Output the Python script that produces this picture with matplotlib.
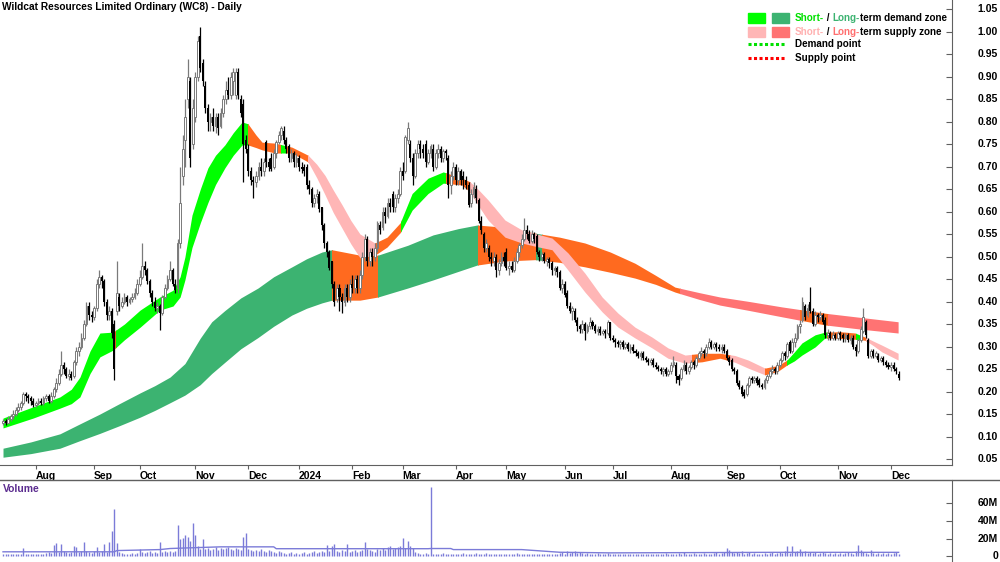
import numpy as np
import matplotlib
matplotlib.use('Agg')
import matplotlib.pyplot as plt
from matplotlib.patches import Rectangle
from matplotlib.lines import Line2D
import matplotlib.transforms as mtrans

plt.rcParams['font.family'] = ['Liberation Sans', 'DejaVu Sans']
plt.rcParams['font.weight'] = 'bold'

title = 'Wildcat Resources Limited Ordinary (WC8) - Daily'

# daily bars, one per trading day (Jul 2023 - Dec 2024)
opens = [
    .13, .135, .13, .14, .145, .15, .16, .165, .175, .195,
    .19, .185, .18, .17, .175, .18, .175, .185, .19, .18,
    .19, .205, .22, .24, .26, .25, .235, .24, .235, .265,
    .29, .30, .32, .35, .39, .37, .365, .385, .44, .455,
    .445, .40, .37, .38, .35, .38, .41, .39, .40, .41,
    .40, .405, .41, .42, .44, .455, .48, .47, .445, .42,
    .40, .385, .39, .375, .41, .43, .45, .47, .44, .43,
    .53, .68, .76, .85, .89, .75, .81, .90, .99, .93,
    .88, .83, .80, .81, .79, .81, .79, .82, .85, .87,
    .86, .89, .86, .91, .85, .84, .76, .74, .69, .67,
    .665, .68, .70, .69, .755, .71, .72, .70, .73, .755,
    .77, .78, .76, .745, .72, .73, .71, .72, .70, .70,
    .70, .66, .65, .62, .635, .64, .61, .57, .53, .51,
    .49, .44, .405, .43, .41, .40, .43, .41, .44, .43,
    .45, .43, .46, .50, .54, .49, .51, .50, .52, .57,
    .565, .60, .59, .62, .64, .61, .63, .64, .69, .69,
    .76, .75, .72, .68, .73, .75, .74, .75, .71, .73,
    .74, .70, .73, .74, .72, .735, .72, .66, .68, .70,
    .67, .69, .68, .67, .66, .62, .64, .65, .625, .58,
    .55, .52, .52, .50, .49, .50, .47, .485, .50, .51,
    .475, .48, .47, .49, .51, .525, .54, .56, .55, .535,
    .55, .545, .51, .50, .505, .49, .495, .485, .47, .475,
    .465, .43, .44, .42, .39, .38, .38, .36, .345, .34,
    .35, .335, .345, .355, .345, .335, .34, .33, .335, .33,
    .355, .32, .315, .31, .305, .31, .30, .305, .295, .30,
    .29, .285, .28, .285, .275, .27, .265, .27, .26, .255,
    .25, .245, .25, .24, .245, .26, .26, .235, .23, .25,
    .26, .245, .255, .265, .26, .275, .285, .29, .285, .30,
    .31, .30, .305, .30, .295, .30, .29, .275, .27, .25,
    .245, .22, .21, .20, .195, .215, .23, .225, .23, .225,
    .215, .21, .225, .235, .245, .25, .245, .26, .27, .285,
    .28, .31, .29, .31, .32, .345, .36, .39, .37, .40,
    .38, .35, .37, .365, .37, .36, .325, .33, .32, .325,
    .32, .33, .325, .32, .325, .315, .32, .30, .29, .315,
    .335, .355, .315, .28, .29, .28, .28, .27, .275, .265,
    .26, .255, .26, .25, .24]
closes = [
    .135, .13, .14, .145, .15, .16, .165, .175, .195, .19,
    .185, .18, .17, .175, .18, .175, .185, .19, .18, .19,
    .205, .22, .24, .26, .25, .235, .24, .23, .265, .29,
    .30, .32, .35, .39, .37, .365, .385, .44, .455, .445,
    .40, .37, .38, .33, .25, .42, .39, .40, .41, .40,
    .405, .41, .42, .44, .455, .48, .47, .445, .42, .40,
    .385, .39, .375, .41, .43, .45, .47, .44, .425, .53,
    .62, .74, .81, .90, .72, .83, .90, .98, .92, .89,
    .83, .80, .81, .79, .81, .785, .82, .85, .87, .86,
    .90, .91, .91, .86, .82, .75, .74, .69, .67, .665,
    .68, .70, .69, .71, .71, .70, .695, .73, .755, .77,
    .785, .76, .74, .72, .73, .71, .72, .70, .695, .69,
    .66, .65, .62, .63, .64, .605, .57, .53, .51, .475,
    .44, .40, .43, .41, .40, .43, .41, .44, .43, .45,
    .43, .46, .50, .54, .49, .51, .50, .52, .575, .56,
    .60, .59, .62, .61, .61, .63, .64, .69, .68, .765,
    .785, .72, .68, .73, .75, .74, .73, .71, .73, .745,
    .70, .73, .74, .72, .735, .73, .66, .68, .70, .67,
    .69, .67, .67, .66, .615, .64, .655, .63, .58, .56,
    .52, .53, .50, .495, .50, .47, .485, .50, .49, .475,
    .48, .47, .49, .51, .525, .54, .56, .55, .535, .55,
    .54, .51, .50, .505, .49, .495, .485, .47, .475, .465,
    .43, .44, .415, .39, .38, .385, .36, .345, .34, .35,
    .335, .345, .355, .345, .335, .34, .33, .335, .33, .355,
    .32, .315, .31, .305, .31, .30, .305, .295, .30, .29,
    .285, .28, .285, .275, .27, .265, .27, .26, .255, .25,
    .245, .25, .24, .245, .26, .265, .235, .225, .25, .26,
    .245, .255, .265, .26, .275, .285, .29, .285, .30, .31,
    .30, .305, .30, .295, .30, .29, .275, .265, .25, .245,
    .22, .21, .195, .19, .215, .23, .225, .23, .22, .215,
    .21, .225, .235, .245, .25, .245, .26, .27, .285, .28,
    .305, .29, .31, .32, .345, .35, .40, .365, .385, .38,
    .35, .37, .365, .37, .355, .325, .33, .32, .325, .32,
    .33, .325, .32, .325, .315, .32, .30, .29, .315, .34,
    .365, .325, .28, .29, .28, .285, .27, .275, .265, .26,
    .255, .26, .25, .245, .23]
highs = [
    .14, .14, .145, .15, .16, .165, .175, .18, .20, .20,
    .195, .19, .185, .18, .185, .185, .19, .195, .195, .20,
    .21, .23, .25, .29, .265, .255, .25, .245, .27, .30,
    .31, .33, .36, .40, .40, .38, .39, .45, .47, .46,
    .45, .405, .39, .385, .36, .49, .42, .41, .42, .415,
    .41, .42, .43, .45, .47, .53, .49, .475, .45, .425,
    .41, .40, .395, .415, .44, .46, .49, .475, .45, .54,
    .70, .77, .85, .94, .90, .85, .91, .99, 1.01, .94,
    .89, .84, .82, .83, .82, .82, .83, .86, .89, .90,
    .91, .92, .92, .92, .86, .85, .77, .75, .70, .68,
    .69, .71, .72, .72, .76, .72, .73, .74, .76, .78,
    .79, .79, .765, .75, .74, .735, .73, .725, .71, .705,
    .705, .67, .655, .64, .65, .645, .61, .575, .535, .515,
    .49, .445, .44, .44, .42, .44, .44, .45, .46, .46,
    .46, .47, .51, .55, .545, .52, .52, .53, .58, .58,
    .61, .61, .63, .63, .645, .64, .65, .70, .71, .77,
    .80, .76, .73, .74, .76, .76, .75, .76, .74, .75,
    .75, .74, .75, .745, .74, .74, .725, .69, .71, .705,
    .70, .695, .69, .68, .665, .65, .665, .66, .63, .59,
    .555, .54, .525, .51, .51, .505, .495, .51, .51, .52,
    .49, .49, .50, .52, .53, .55, .585, .57, .56, .56,
    .555, .55, .515, .51, .51, .50, .50, .49, .48, .48,
    .47, .45, .445, .425, .40, .39, .385, .365, .35, .36,
    .355, .35, .365, .36, .35, .345, .345, .34, .34, .36,
    .355, .325, .32, .315, .315, .315, .31, .31, .305, .305,
    .295, .29, .29, .29, .28, .275, .275, .275, .265, .26,
    .255, .255, .255, .25, .265, .28, .265, .24, .255, .27,
    .265, .26, .27, .27, .28, .29, .30, .295, .305, .32,
    .315, .31, .31, .305, .305, .305, .295, .28, .275, .255,
    .25, .225, .215, .205, .22, .235, .235, .235, .235, .23,
    .22, .23, .24, .25, .26, .255, .265, .275, .29, .29,
    .31, .315, .32, .33, .35, .36, .41, .395, .395, .432,
    .385, .38, .375, .38, .375, .365, .34, .335, .335, .33,
    .335, .335, .33, .33, .33, .325, .325, .305, .32, .345,
    .385, .36, .32, .295, .295, .29, .285, .28, .28, .27,
    .265, .265, .265, .255, .245]
lows = [
    .125, .125, .13, .135, .14, .145, .155, .16, .17, .18,
    .175, .17, .165, .165, .17, .17, .17, .18, .175, .175,
    .185, .20, .215, .235, .24, .23, .225, .225, .23, .26,
    .28, .295, .315, .345, .36, .355, .36, .38, .43, .43,
    .39, .36, .36, .32, .225, .37, .38, .385, .395, .39,
    .395, .40, .405, .415, .435, .45, .46, .44, .41, .39,
    .38, .375, .337, .37, .405, .425, .445, .435, .42, .42,
    .52, .66, .70, .83, .70, .74, .80, .89, .91, .88,
    .82, .78, .78, .78, .775, .77, .785, .81, .84, .85,
    .85, .86, .85, .85, .81, .665, .73, .68, .66, .63,
    .655, .67, .68, .68, .70, .69, .69, .695, .72, .75,
    .76, .75, .73, .71, .71, .70, .70, .69, .685, .68,
    .65, .64, .61, .61, .62, .60, .56, .52, .50, .47,
    .43, .39, .40, .38, .375, .39, .40, .40, .42, .42,
    .42, .42, .45, .49, .48, .48, .48, .49, .51, .55,
    .56, .575, .585, .60, .60, .60, .62, .635, .67, .685,
    .75, .71, .66, .675, .72, .72, .72, .70, .705, .72,
    .69, .695, .72, .71, .71, .715, .63, .64, .67, .66,
    .66, .66, .65, .65, .61, .61, .63, .62, .575, .55,
    .51, .51, .49, .48, .48, .455, .46, .48, .48, .47,
    .46, .465, .465, .485, .50, .52, .535, .54, .53, .53,
    .53, .505, .49, .49, .485, .48, .475, .46, .46, .455,
    .425, .42, .41, .385, .375, .36, .355, .335, .33, .33,
    .315, .33, .34, .34, .33, .325, .325, .325, .32, .325,
    .315, .31, .30, .30, .295, .295, .295, .29, .285, .285,
    .28, .275, .27, .27, .265, .26, .26, .255, .25, .245,
    .24, .235, .235, .235, .24, .255, .22, .215, .225, .245,
    .24, .24, .25, .25, .255, .27, .28, .275, .28, .295,
    .295, .295, .29, .29, .285, .285, .27, .26, .245, .24,
    .215, .205, .19, .185, .19, .21, .22, .22, .215, .21,
    .205, .205, .22, .23, .24, .24, .24, .255, .265, .27,
    .275, .285, .285, .30, .315, .33, .355, .36, .365, .375,
    .345, .345, .355, .36, .35, .32, .315, .315, .315, .315,
    .315, .315, .31, .31, .31, .305, .295, .28, .285, .31,
    .33, .32, .275, .275, .275, .275, .265, .265, .26, .255,
    .25, .245, .245, .24, .225]
# volume in millions
volumes = [
    2, 3, 2, 3, 2, 3, 2, 3, 9, 3,
    2, 3, 2, 2, 3, 2, 3, 4, 5, 4,
    13, 15, 5, 14, 6, 5, 4, 5, 11, 10,
    5, 6, 16, 6, 5, 4, 6, 10, 5, 6,
    14, 5, 16, 29, 53, 15, 5, 4, 3, 3,
    2, 4, 3, 4, 8, 5, 4, 5, 6, 4,
    5, 4, 16, 5, 6, 5, 6, 5, 6, 35,
    20, 21, 24, 22, 17, 37, 24, 12, 8, 19,
    8, 9, 7, 8, 10, 7, 9, 8, 9, 10,
    8, 7, 9, 8, 7, 22, 26, 8, 7, 6,
    7, 6, 8, 6, 5, 7, 6, 5, 4, 6,
    5, 4, 3, 4, 5, 3, 4, 3, 4, 5,
    3, 4, 5, 6, 4, 5, 6, 5, 13, 6,
    12, 14, 6, 5, 7, 6, 14, 5, 6, 7,
    5, 6, 7, 16, 8, 7, 6, 5, 8, 7,
    9, 7, 10, 11, 8, 9, 10, 11, 21, 9,
    17, 12, 9, 5, 4, 3, 3, 4, 3, 78,
    3, 2, 3, 2, 4, 3, 2, 3, 2, 3,
    2, 3, 4, 2, 3, 2, 3, 4, 3, 2,
    3, 4, 3, 2, 3, 2, 3, 2, 3, 2,
    3, 2, 3, 4, 2, 3, 2, 3, 2, 3,
    2, 3, 2, 3, 2, 3, 2, 3, 2, 3,
    4, 5, 3, 6, 4, 5, 6, 4, 5, 4,
    3, 4, 3, 2, 3, 4, 3, 2, 3, 4,
    2, 3, 2, 3, 2, 3, 2, 3, 2, 2,
    3, 2, 3, 2, 3, 2, 3, 2, 3, 2,
    3, 2, 4, 3, 2, 3, 2, 4, 3, 5,
    3, 2, 3, 4, 3, 2, 3, 4, 3, 2,
    3, 4, 5, 3, 4, 5, 9, 7, 5, 4,
    5, 4, 6, 3, 4, 5, 3, 4, 3, 2,
    3, 4, 3, 4, 5, 3, 4, 5, 4, 6,
    12, 4, 11, 5, 6, 8, 5, 6, 4, 5,
    4, 5, 3, 4, 5, 4, 3, 4, 3, 4,
    3, 4, 3, 4, 5, 4, 3, 6, 13, 7,
    5, 4, 3, 7, 4, 3, 4, 3, 4, 3,
    4, 3, 4, 5, 3]
vol_ma_x = [0, 44, 45, 62, 66, 73, 86, 107, 108, 168, 169, 177, 178, 205, 220, 240, 305, 354]
vol_ma = [5, 5, 6.4, 7.5, 8.7, 9.4, 10.6, 10.6, 8.5, 8.5, 8.7, 8.7, 7.5, 7.5, 4.5, 3.8, 4.4, 4.4]

# short-term zone, read at bar positions
short_x = [0, 11.9, 22.5, 27, 30.4, 34.4, 38.3, 43.5, 48, 54.2, 62, 67.2, 70, 71.9, 74.7,
           78, 81, 84, 87.7, 91, 94.5, 96.8, 100, 102.4, 107.5, 114.2, 120.6, 124, 127.3,
           130.5, 134, 137.5, 141.1, 147, 151.8, 157, 161.7, 168, 174, 181.4, 184.6, 188,
           191.7, 198.4, 205.1, 211, 217, 223.3, 230, 236.8, 243.1, 249.8, 256.5, 262.8,
           269.6, 276.3, 283.4, 289.3, 294.5, 301.2, 306.3, 309.9, 312.8, 315.8, 321, 324.9,
           330.8, 336.8, 340.7, 344, 347.4, 353.8]
short_top = [.141, .166, .188, .205, .232, .29, .33, .332, .35, .381, .41, .425, .455, .499, .592,
             .65, .697, .725, .748, .775, .799, .795, .77, .754, .752, .743, .725, .705, .68,
             .648, .615, .58, .55, .53, .543, .575, .64, .674, .688, .674, .666, .648,
             .626, .581, .559, .55, .541, .508, .463, .41, .374, .343, .321, .297,
             .281, .285, .285, .28, .27, .252, .258, .27, .288, .308, .326, .332,
             .333, .33, .321, .312, .303, .285]
short_bot = [.119, .141, .163, .173, .188, .24, .277, .292, .315, .343, .381, .39, .41, .448, .52,
             .575, .62, .66, .697, .725, .748, .748, .742, .737, .73, .73, .71, .675, .637,
             .598, .563, .528, .497, .503, .521, .553, .603, .64, .663, .659, .643, .612,
             .581, .543, .53, .522, .515, .47, .421, .377, .343, .319, .297, .274,
             .263, .266, .274, .265, .252, .237, .245, .259, .268, .281, .299, .319,
             .318, .316, .314, .302, .288, .27]
short_segs = [(0, 43.5, 'sd'), (43.5, 44.5, 'or'), (44.5, 96.8, 'sd'), (96.8, 109.9, 'or'),
              (109.9, 111.9, 'sd'), (111.9, 120.6, 'or'), (120.6, 147, 'ss'), (147, 157.3, 'or'),
              (157.3, 175.1, 'sd'), (175.1, 184.6, 'or'), (184.6, 272.3, 'ss'),
              (272.3, 287.4, 'or'), (287.4, 301.2, 'ss'), (301.2, 309.9, 'or'),
              (309.9, 325.7, 'sd'), (325.7, 337.2, 'or'), (337.2, 338.7, 'sd'),
              (338.7, 341.1, 'or'), (341.1, 354, 'ss')]

# long-term zone
long_x = [0, 11, 22.5, 30, 38.3, 46, 54.2, 60, 66, 71.9, 77.9, 82.5, 87.7, 94, 100.8, 107,
          114.2, 120, 126.1, 130, 141.1, 148.2, 160, 170, 180, 187.4, 198.4, 210.3, 220, 230,
          240, 249.8, 258, 265.6, 275, 283.4, 295, 307.9, 324.9, 340, 353.8]
long_top = [.074, .088, .106, .127, .15, .173, .197, .213, .232, .262, .318, .355, .38, .408,
            .43, .455, .477, .495, .51, .515, .503, .503, .525, .548, .562, .57, .565, .552,
            .543, .53, .51, .485, .458, .432, .42, .41, .40, .388, .374, .364, .355]
long_bot = [.054, .062, .074, .09, .107, .124, .143, .158, .175, .192, .215, .24, .265, .295,
            .32, .345, .37, .385, .397, .403, .403, .41, .43, .448, .467, .481, .49, .493,
            .487, .477, .465, .452, .438, .421, .405, .392, .38, .366, .348, .338, .33]
long_segs = [(0, 130, 'ld'), (130, 148.2, 'or'), (148.2, 187.7, 'ld'), (187.7, 210.7, 'or'),
             (210.7, 213, 'ld'), (213, 267.6, 'or'), (267.6, 315, 'ls'), (315, 326, 'or'),
             (326, 354, 'ls')]

month_pos = [13, 36, 54, 76, 97, 117, 138, 158, 179, 199, 222, 241, 264, 286, 307, 330, 351]
month_lab = ['Aug', 'Sep', 'Oct', 'Nov', 'Dec', '2024', 'Feb', 'Mar', 'Apr', 'May', 'Jun',
             'Jul', 'Aug', 'Sep', 'Oct', 'Nov', 'Dec']
price_ticks = [0.05, 0.10, 0.15, 0.20, 0.25, 0.30, 0.35, 0.40, 0.45, 0.50,
               0.55, 0.60, 0.65, 0.70, 0.75, 0.80, 0.85, 0.90, 0.95, 1.00, 1.05]
vol_ticks = [0, 20, 40, 60]
vol_tick_lab = ['0', '20M', '40M', '60M']

colors = {'sd': '#00FF00', 'ld': '#3CB371', 'ss': '#FFB6B6', 'ls': '#FF7373', 'or': '#FF6A1F'}
axis_col = '#606060'
vol_col = '#7B7BD8'
FS = 7.5

W, H = 1000, 562
fig = plt.figure(figsize=(W / 100, H / 100), dpi=100)


def fx(px):
    return px / W


def fy(py):
    return 1 - py / H


ax = fig.add_axes([0, fy(465), fx(952), 465 / H])
axv = fig.add_axes([0, 0, fx(952), 82 / H])

x = np.arange(len(closes))
o = np.array(opens)
c = np.array(closes)
hi = np.array(highs)
lo = np.array(lows)

for a in (ax, axv):
    a.set_xlim(-1.19, 375.1)
    for s in ('left', 'top', 'bottom'):
        a.spines[s].set_visible(False)
    a.spines['right'].set_color(axis_col)
    a.set_facecolor('white')
ax.spines['bottom'].set_visible(True)
ax.spines['bottom'].set_color(axis_col)
ax.set_ylim(0.0367, 1.07)


def draw_zone(xs, top, bot, segs, z):
    for s0, s1, k in segs:
        poly = ax.fill_between(xs, bot, top, color=colors[k], lw=0, zorder=z)
        poly.set_clip_path(Rectangle((s0, -1), s1 - s0, 3, transform=ax.transData))


draw_zone(long_x, long_top, long_bot, long_segs, 1)
draw_zone(short_x, short_top, short_bot, short_segs, 2)

up = c >= o
dn = ~up
ax.vlines(x[up], lo[up], hi[up], color='#7a7a7a', lw=0.9, zorder=3)
ax.vlines(x[dn], lo[dn], hi[dn], color='black', lw=0.9, zorder=3)
ax.bar(x[up], c[up] - o[up], bottom=o[up], width=0.72, facecolor='white',
       edgecolor='#7a7a7a', lw=0.7, zorder=4)
ax.bar(x[dn], o[dn] - c[dn], bottom=c[dn], width=0.8, color='black', lw=0, zorder=4)

# axes ticks
ax.set_xticks(month_pos)
ax.set_xticklabels(month_lab, fontsize=FS, fontweight='bold')
for t in ax.get_xticklabels():
    t.set_ha('left')
ax.tick_params(axis='x', direction='out', length=3, color=axis_col, pad=1)
ax.yaxis.tick_right()
ax.set_yticks(price_ticks)
ax.set_yticklabels([])
ax.tick_params(axis='y', direction='in', length=4, color=axis_col)
tr = mtrans.blended_transform_factory(fig.transFigure, ax.transData)
for v in price_ticks:
    fig.text(fx(998), v, '%.2f' % v, transform=tr, ha='right', va='center', fontsize=FS)

# volume panel
axv.vlines(x, 0, volumes, color=vol_col, lw=1)
axv.plot(vol_ma_x, vol_ma, color=vol_col, lw=1)
axv.set_ylim(-6.5, 86)
axv.set_xticks([])
axv.yaxis.tick_right()
axv.set_yticks(vol_ticks)
axv.set_yticklabels([])
axv.tick_params(axis='y', direction='in', length=4, color=axis_col)
trv = mtrans.blended_transform_factory(fig.transFigure, axv.transData)
for v, lab in zip(vol_ticks, vol_tick_lab):
    fig.text(fx(998), v, lab, transform=trv, ha='right', va='center', fontsize=FS)
fig.add_artist(Line2D([0, 1], [fy(480), fy(480)], color=axis_col, lw=1))
fig.text(fx(3), fy(489), 'Volume', color='#5B2C8F', va='center', fontsize=FS)

fig.text(fx(2), fy(7), title, va='center', fontsize=7.3)

# legend
LFS = 7.1
r = fig.canvas.get_renderer()


def chain(px, py, parts):
    xx = fx(px)
    for txt, col in parts:
        t = fig.text(xx, fy(py), txt, color=col, va='center', fontsize=LFS)
        bb = t.get_window_extent(renderer=r)
        xx = bb.x1 / W


rows = [(18, colors['sd'], colors['ld'], '#00E000', colors['ld'], 'term demand zone'),
        (32, colors['ss'], colors['ls'], '#FFB0B0', '#FF6F6F', 'term supply zone')]
for py, c1, c2, t1, t2, rest in rows:
    fig.add_artist(Rectangle((fx(748), fy(py + 5)), 17 / W, 10 / H, color=c1, transform=fig.transFigure))
    fig.add_artist(Rectangle((fx(772), fy(py + 5)), 17 / W, 10 / H, color=c2, transform=fig.transFigure))
    chain(795, py, [('Short-', t1), (' / ', 'black'), ('Long-', t2), (rest, 'black')])
for py, col, lab in [(44, '#00E000', 'Demand point'), (58, '#FF0000', 'Supply point')]:
    fig.add_artist(Line2D([fx(748), fx(786)], [fy(py), fy(py)], color=col, lw=2.2,
                          linestyle=(0, (1, 0.8)), transform=fig.transFigure))
    fig.text(fx(795), fy(py), lab, va='center', fontsize=LFS)

fig.savefig('out.png', dpi=100)
